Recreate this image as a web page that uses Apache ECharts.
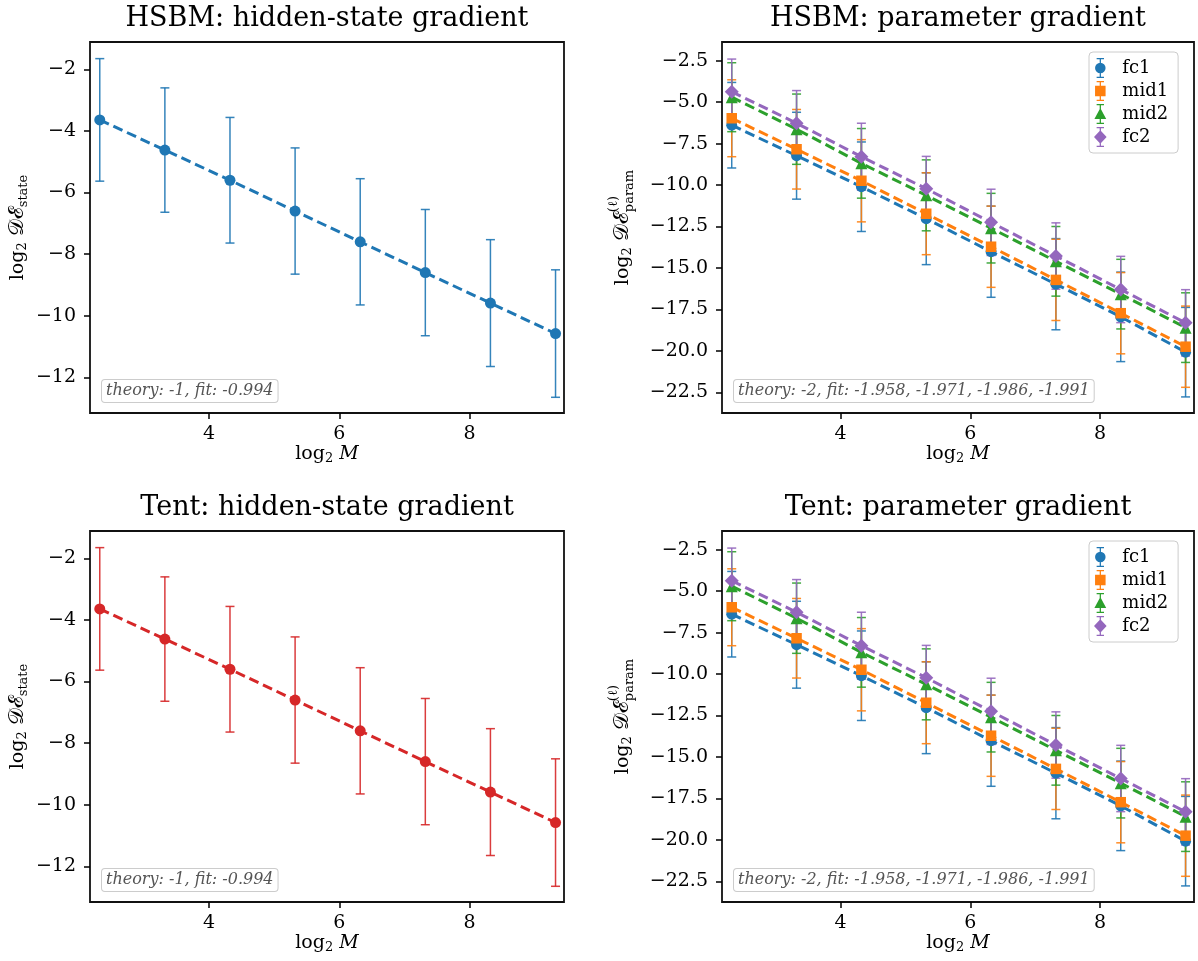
<!DOCTYPE html>
<html><head><meta charset="utf-8">
<script src="https://cdn.jsdelivr.net/npm/echarts@6/dist/echarts.min.js"></script>
<style>html,body{margin:0;padding:0;background:#fff}#c{width:1198px;height:961px}</style>
</head><body><div id="c"></div>
<script>
// ---------------- data ----------------
const logM = [2.32, 3.32, 4.32, 5.32, 6.32, 7.32, 8.32, 9.32];
const xTicks = [4, 6, 8];
const stateTicks = [-12, -10, -8, -6, -4, -2];
const paramTicks = [-22.5, -20, -17.5, -15, -12.5, -10, -7.5, -5, -2.5];
const layerNames = ['fc1', 'mid1', 'mid2', 'fc2'];

const hsbmStateMean = [-3.64, -4.62, -5.60, -6.60, -7.60, -8.60, -9.59, -10.58];
const hsbmStateErr  = [1.99, 2.02, 2.04, 2.05, 2.05, 2.05, 2.06, 2.07];
const tentStateMean = [-3.64, -4.62, -5.60, -6.60, -7.60, -8.60, -9.59, -10.58];
const tentStateErr  = [1.99, 2.02, 2.04, 2.05, 2.05, 2.05, 2.06, 2.07];

const hsbmFc1Mean  = [-6.39, -8.23, -10.10, -12.03, -14.02, -15.98, -17.95, -20.08];
const hsbmFc1Err   = [2.58, 2.62, 2.70, 2.77, 2.75, 2.75, 2.70, 2.70];
const hsbmMid1Mean = [-5.97, -7.84, -9.74, -11.73, -13.72, -15.72, -17.73, -19.75];
const hsbmMid1Err  = [2.32, 2.40, 2.48, 2.47, 2.45, 2.45, 2.45, 2.45];
const hsbmMid2Mean = [-4.70, -6.63, -8.69, -10.62, -12.60, -14.60, -16.58, -18.60];
const hsbmMid2Err  = [2.08, 2.12, 2.10, 2.14, 2.10, 2.10, 2.10, 2.10];
const hsbmFc2Mean  = [-4.37, -6.27, -8.29, -10.22, -12.25, -14.28, -16.30, -18.31];
const hsbmFc2Err   = [1.97, 1.97, 2.02, 1.95, 2.00, 2.00, 2.00, 2.00];

const tentFc1Mean  = [-6.39, -8.23, -10.10, -12.03, -14.02, -15.98, -17.95, -20.08];
const tentFc1Err   = [2.58, 2.62, 2.70, 2.77, 2.75, 2.75, 2.70, 2.70];
const tentMid1Mean = [-5.97, -7.84, -9.74, -11.73, -13.72, -15.72, -17.73, -19.75];
const tentMid1Err  = [2.32, 2.40, 2.48, 2.47, 2.45, 2.45, 2.45, 2.45];
const tentMid2Mean = [-4.70, -6.63, -8.69, -10.62, -12.60, -14.60, -16.58, -18.60];
const tentMid2Err  = [2.08, 2.12, 2.10, 2.14, 2.10, 2.10, 2.10, 2.10];
const tentFc2Mean  = [-4.37, -6.27, -8.29, -10.22, -12.25, -14.28, -16.30, -18.31];
const tentFc2Err   = [1.97, 1.97, 2.02, 1.95, 2.00, 2.00, 2.00, 2.00];

const titles = ['HSBM: hidden-state gradient', 'HSBM: parameter gradient',
                'Tent: hidden-state gradient', 'Tent: parameter gradient'];
const stateNote = 'theory: -1, fit: -0.994';
const paramNote = 'theory: -2, fit: -1.958, -1.971, -1.986, -1.991';

// ---------------- styling ----------------
const FONT = 'DejaVu Serif';
const C = {fc1: '#1f77b4', mid1: '#ff7f0e', mid2: '#2ca02c', fc2: '#9467bd', red: '#d62728'};
const SYM = {fc1: ['circle', 11], mid1: ['rect', 10.5], mid2: ['triangle', 12], fc2: ['diamond', 14]};
const grids = [
  {left: 90, top: 42, width: 474, height: 371},
  {left: 722, top: 42, width: 472, height: 371},
  {left: 90, top: 531, width: 474, height: 371},
  {left: 722, top: 531, width: 472, height: 371}
];
const fmt = (d) => (v) => (v < 0 ? '\u2212' : '') + Math.abs(v).toFixed(d);

function errData(xs, m, e) { return xs.map((x, i) => [x, m[i] - e[i], m[i] + e[i]]); }
function ptData(xs, m) { return xs.map((x, i) => [x, m[i]]); }
function errRender(color) {
  return function (params, api) {
    const x = api.value(0), lo = api.value(1), hi = api.value(2);
    const a = api.coord([x, lo]), b = api.coord([x, hi]);
    const cw = 4.5;
    const st = {stroke: color, lineWidth: 1.5, opacity: 0.9};
    return {type: 'group', children: [
      {type: 'line', shape: {x1: a[0], y1: a[1], x2: b[0], y2: b[1]}, style: st},
      {type: 'line', shape: {x1: a[0] - cw, y1: a[1], x2: a[0] + cw, y2: a[1]}, style: st},
      {type: 'line', shape: {x1: b[0] - cw, y1: b[1], x2: b[0] + cw, y2: b[1]}, style: st}
    ]};
  };
}

const xAxes = grids.map((g, i) => ({
  type: 'value', gridIndex: i, min: 2.17, max: 9.45,
  splitLine: {show: false}, axisLine: {show: false},
  axisTick: {show: true, length: 6, lineStyle: {color: '#000', width: 1.5}, customValues: xTicks},
  axisLabel: {customValues: xTicks, fontFamily: FONT, fontSize: 19, color: '#000', margin: 12,
              formatter: fmt(0)}
}));
const yAxes = grids.map((g, i) => {
  const param = (i % 2 === 1);
  return {
    type: 'value', gridIndex: i,
    min: param ? -23.75 : -13.16, max: param ? -1.37 : -1.11,
    splitLine: {show: false}, axisLine: {show: false},
    axisTick: {show: true, length: 6, lineStyle: {color: '#000', width: 1.5},
               customValues: param ? paramTicks : stateTicks},
    axisLabel: {customValues: param ? paramTicks : stateTicks, fontFamily: FONT, fontSize: 19,
                color: '#000', margin: 14, formatter: fmt(param ? 1 : 0)}
  };
});

const series = [];
function addState(idx, mean, err, color, name) {
  series.push({type: 'custom', name: name + '_err', xAxisIndex: idx, yAxisIndex: idx, silent: true, z: 2,
    renderItem: errRender(color), data: errData(logM, mean, err), encode: {x: 0, y: [1, 2]}});
  series.push({type: 'line', name: name, xAxisIndex: idx, yAxisIndex: idx, z: 3,
    data: ptData(logM, mean), symbol: 'circle', symbolSize: 11,
    itemStyle: {color: color, borderWidth: 0},
    lineStyle: {color: color, width: 3, type: [10, 5]}});
}
function addParam(idx, layers) {
  layers.forEach(([name, mean, err]) => {
    series.push({type: 'custom', name: name + '_err', xAxisIndex: idx, yAxisIndex: idx, silent: true, z: 2,
      renderItem: errRender(C[name]), data: errData(logM, mean, err), encode: {x: 0, y: [1, 2]}});
  });
  layers.forEach(([name, mean]) => {
    series.push({type: 'line', name: name, xAxisIndex: idx, yAxisIndex: idx, z: 3,
      data: ptData(logM, mean), symbol: SYM[name][0], symbolSize: SYM[name][1],
      itemStyle: {color: C[name], borderWidth: 0},
      lineStyle: {color: C[name], width: 3, type: [10, 5]}});
  });
}
addState(0, hsbmStateMean, hsbmStateErr, C.fc1, 'HSBM state');
addParam(1, [['fc1', hsbmFc1Mean, hsbmFc1Err], ['mid1', hsbmMid1Mean, hsbmMid1Err],
             ['mid2', hsbmMid2Mean, hsbmMid2Err], ['fc2', hsbmFc2Mean, hsbmFc2Err]]);
addState(2, tentStateMean, tentStateErr, C.red, 'Tent state');
addParam(3, [['fc1', tentFc1Mean, tentFc1Err], ['mid1', tentMid1Mean, tentMid1Err],
             ['mid2', tentMid2Mean, tentMid2Err], ['fc2', tentFc2Mean, tentFc2Err]]);

// legend icons: errorbar + marker
const BB = 'M0 0L0.01 0Z M12 19L11.99 19Z ';
const EB = 'M2.5 0H9.5V1.2H2.5Z M5.4 0H6.6V19H5.4Z M2.5 17.8H9.5V19H2.5Z ';
const ICON = {
  fc1: 'path://' + BB + EB + 'M1 9.5A5 5 0 1 1 11 9.5A5 5 0 1 1 1 9.5Z',
  mid1: 'path://' + BB + EB + 'M1 4.5H11V14.5H1Z',
  mid2: 'path://' + BB + EB + 'M6 3.8L11.6 14.2L0.4 14.2Z',
  fc2: 'path://' + BB + EB + 'M6 3L12 9.5L6 16L0 9.5Z'
};
function legendAt(top) {
  return {
    show: true, orient: 'vertical', left: 1089, top: top,
    backgroundColor: '#fff', borderColor: '#cccccc', borderWidth: 1, borderRadius: 4,
    padding: [6, 10, 6, 5], itemGap: 3, itemWidth: 34, itemHeight: 20,
    textStyle: {fontFamily: FONT, fontSize: 18, color: '#000', lineHeight: 20},
    selectedMode: false,
    data: layerNames.map(n => ({name: n, icon: ICON[n], itemStyle: {color: C[n]}}))
  };
}

// ---------------- composed math labels ----------------
const mctx = document.createElement('canvas').getContext('2d');
function tw(t, size, style) { mctx.font = (style || 'normal') + ' ' + size + 'px ' + FONT; return mctx.measureText(t).width; }
function mathGroup(parts, x, y, rotate) {
  let w = 0;
  const items = [];
  parts.forEach(p => {
    if (p.stack) {
      const ws = p.stack.map(s => tw(s.t, s.size, s.style));
      p.stack.forEach((s) => items.push({t: s.t, size: s.size, style: s.style, dy: s.dy, x: w}));
      w += Math.max.apply(null, ws);
    } else {
      items.push({t: p.t, size: p.size, style: p.style, dy: p.dy || 0, x: w});
      w += tw(p.t, p.size, p.style);
    }
  });
  return {
    type: 'group', x: x, y: y, rotation: rotate ? Math.PI / 2 : 0,
    children: items.map(it => ({
      type: 'text', x: it.x - w / 2, y: it.dy,
      style: {text: it.t, fill: '#000', font: (it.style || 'normal') + ' ' + it.size + 'px ' + FONT,
              align: 'left', verticalAlign: 'middle'}
    }))
  };
}
const stateLabel = [{t: 'log', size: 19}, {t: '2', size: 13, dy: 5}, {t: ' ', size: 19},
                    {t: '\uD835\uDC9F\u2130', size: 21}, {t: 'state', size: 13, dy: 6}];
const paramLabel = [{t: 'log', size: 19}, {t: '2', size: 13, dy: 5}, {t: ' ', size: 19},
                    {t: '\uD835\uDC9F\u2130', size: 21},
                    {stack: [{t: '(\u2113)', size: 13, dy: -9}, {t: 'param', size: 13, dy: 7}]}];
const xLabel = [{t: 'log', size: 19}, {t: '2', size: 13, dy: 5}, {t: ' M', size: 19, style: 'italic'}];

const graphics = [];
grids.forEach((g, i) => {
  const cx = g.left + g.width / 2, cy = g.top + g.height / 2;
  graphics.push({type: 'text', x: cx, y: g.top - 23,
    style: {text: titles[i], fill: '#000', font: 'normal 27px ' + FONT, align: 'center', verticalAlign: 'middle'}});
  graphics.push(mathGroup(xLabel, cx, g.top + g.height + 41, false));
  const param = i % 2 === 1;
  graphics.push(mathGroup(param ? paramLabel : stateLabel, param ? 623 : 18, cy, true));
  graphics.push({type: 'text', x: g.left + 12, y: g.top + g.height - 22, z: 100,
    style: {text: param ? paramNote : stateNote, fill: '#555', font: 'italic 16px ' + FONT,
            align: 'left', verticalAlign: 'middle',
            backgroundColor: '#fff', borderColor: '#cccccc', borderWidth: 1, borderRadius: 3, padding: [3, 4]}});
});

const chart = echarts.init(document.getElementById('c'), null, {renderer: 'canvas'});
chart.setOption({
  animation: false,
  backgroundColor: '#fff',
  grid: grids.map(g => Object.assign({show: true, borderColor: '#111', borderWidth: 1.8, backgroundColor: 'transparent'}, g)),
  xAxis: xAxes, yAxis: yAxes,
  legend: [legendAt(52), legendAt(541)],
  series: series,
  graphic: graphics
});
</script></body></html>
